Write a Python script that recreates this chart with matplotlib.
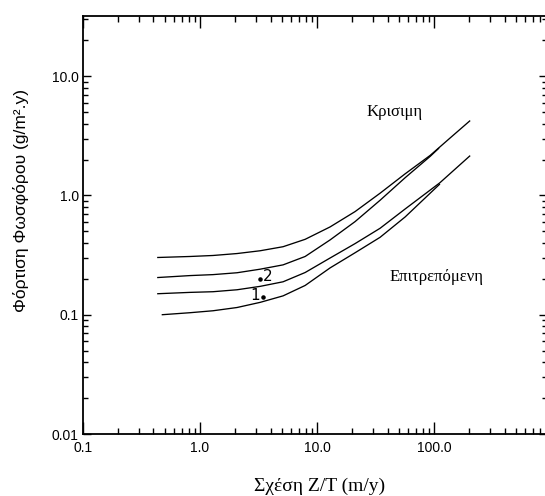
import matplotlib
matplotlib.use('Agg')
import matplotlib.pyplot as plt
from matplotlib.ticker import LogLocator, NullFormatter

# values (Z/T in m/y, load in g/m2.y)
zt_1 = [0.43, 0.82, 1.29, 2.07, 3.26, 5.12, 7.9, 12.9, 21.1, 34.5, 56.5, 92.5, 137, 203]
load_1 = [0.302, 0.308, 0.314, 0.326, 0.344, 0.372, 0.429, 0.545, 0.733, 1.045, 1.52,
          2.17, 3.04, 4.25]

zt_2 = [0.43, 0.82, 1.29, 2.07, 3.26, 5.12, 7.9, 12.9, 21.1, 34.5, 56.5, 92.5, 110]
load_2 = [0.205, 0.213, 0.217, 0.225, 0.241, 0.262, 0.308, 0.424, 0.604, 0.912, 1.41,
          2.13, 2.5]

zt_3 = [0.43, 0.82, 1.29, 2.07, 3.26, 5.12, 7.9, 12.9, 21.1, 34.5, 56.5, 112, 203]
load_3 = [0.150, 0.154, 0.156, 0.162, 0.173, 0.189, 0.226, 0.299, 0.395, 0.531, 0.771,
          1.28, 2.16]

zt_4 = [0.47, 0.82, 1.29, 2.07, 3.26, 5.12, 7.9, 12.9, 21.1, 34.5, 56.5, 112]
load_4 = [0.100, 0.104, 0.108, 0.115, 0.127, 0.144, 0.176, 0.247, 0.331, 0.446, 0.661,
          1.25]

lake_x = [3.45, 3.26]
lake_y = [0.14, 0.198]
lake_names = ['1', '2']

xticks = [0.1, 1, 10, 100]
xtick_labels = ['0.1', '1.0', '10.0', '100.0']
yticks = [0.01, 0.1, 1, 10]
ytick_labels = ['0.01', '0.1', '1.0', '10.0']

fig = plt.figure(figsize=(5.45, 4.96), dpi=100)
ax = fig.add_axes([83 / 545, (496 - 434) / 496, 464 / 545, 418 / 496])
ax.set_xscale('log')
ax.set_yscale('log')

for xs, ys in [(zt_1, load_1), (zt_2, load_2), (zt_3, load_3), (zt_4, load_4)]:
    ax.plot(xs, ys, color='black', lw=0.95, solid_capstyle='butt')

ax.scatter(lake_x, lake_y, s=5, color='black', zorder=3)
ax.text(lake_x[0] * 0.86, lake_y[0] * 1.04, lake_names[0], fontsize=11,
        ha='center', va='center', family='DejaVu Sans')
ax.text(lake_x[1] * 1.17, lake_y[1] * 1.06, lake_names[1], fontsize=11,
        ha='center', va='center', family='DejaVu Sans')

ax.text(46, 5.06, 'Κρισιμη', fontsize=12, ha='center', va='center',
        family='Liberation Serif')
ax.text(104, 0.207, 'Επιτρεπόμενη', fontsize=12, ha='center', va='center',
        family='Liberation Serif')

ax.set_xlim(0.1, 920)
ax.set_ylim(0.01, 32)

ax.set_xticks(xticks)
ax.set_xticklabels(xtick_labels)
ax.set_yticks(yticks)
ax.set_yticklabels(ytick_labels)
ax.xaxis.set_minor_locator(LogLocator(base=10, subs=range(2, 10)))
ax.yaxis.set_minor_locator(LogLocator(base=10, subs=range(2, 10)))
ax.xaxis.set_minor_formatter(NullFormatter())
ax.yaxis.set_minor_formatter(NullFormatter())

ax.tick_params(which='both', direction='in', top=True, right=True,
               width=1.0, color='black', labelsize=10)
ax.tick_params(axis='x', which='major', length=8.5, pad=5)
ax.tick_params(axis='x', which='minor', length=4)
ax.tick_params(axis='y', which='major', length=6, pad=3)
ax.tick_params(axis='y', which='minor', length=3.5)
for lab in ax.get_xticklabels() + ax.get_yticklabels():
    lab.set_family('Liberation Sans')

for side in ['left', 'bottom', 'top', 'right']:
    ax.spines[side].set_linewidth(1.3)

fig.text(21 / 545, 1 - 201 / 496, 'Φόρτιση Φωσφόρου (g/m².y)', rotation=90,
         ha='center', va='center', fontsize=12.5, family='Liberation Sans')
fig.text(320 / 545, 1 - 486 / 496, 'Σχέση Z/T (m/y)', ha='center', va='center',
         fontsize=14, family='Liberation Serif')

fig.savefig('out.png', dpi=100)
